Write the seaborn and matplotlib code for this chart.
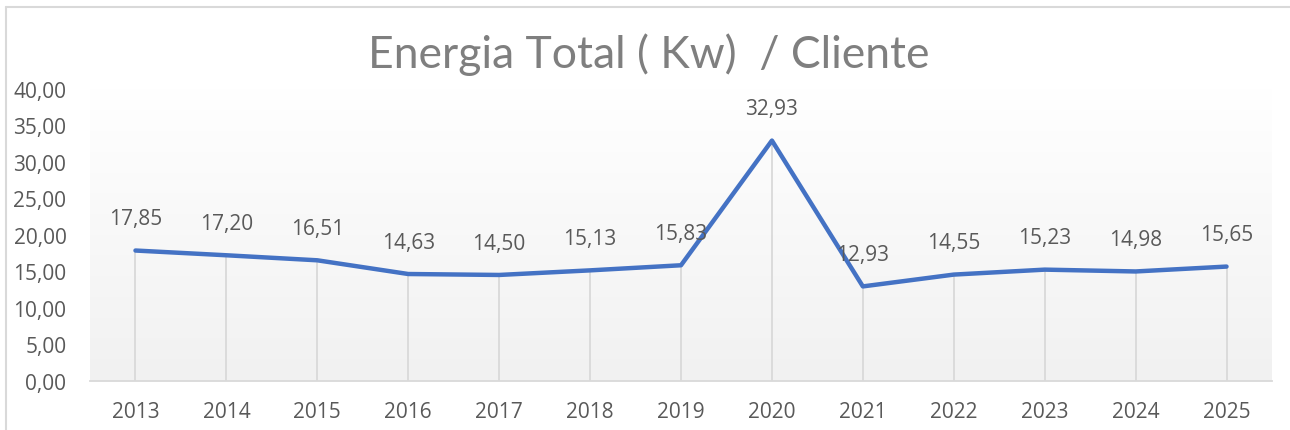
import matplotlib.pyplot as plt
import matplotlib.lines as mlines
import seaborn as sns
import pandas as pd
import numpy as np

# Data
anos = ['2013', '2014', '2015', '2016', '2017', '2018', '2019',
        '2020', '2021', '2022', '2023', '2024', '2025']
energia = [17.85, 17.20, 16.51, 14.63, 14.50, 15.13, 15.83,
           32.93, 12.93, 14.55, 15.23, 14.98, 15.65]
y_ticks = [0, 5, 10, 15, 20, 25, 30, 35, 40]

df = pd.DataFrame({'ano': anos, 'energia': energia})
df['pos'] = np.arange(len(df))

sns.set_theme(style='white')
plt.rcParams['font.family'] = ['Open Sans', 'DejaVu Sans']

fig = plt.figure(figsize=(12.9, 4.31), dpi=100)
ax = fig.add_axes([90 / 1290, 1 - 381.7 / 431, (1272 - 90) / 1290, (381.7 - 90) / 431])

# background gradient white -> light gray
grad = np.linspace(1.0, 0.945, 256).reshape(-1, 1)
ax.imshow(np.dstack([grad, grad, grad]), aspect='auto', extent=(-0.5, 12.5, 0, 40),
          origin='upper', zorder=0, interpolation='bicubic')

# drop lines
ax.vlines(df['pos'], 0, df['energia'], color='#d9d9d9', lw=1.3, zorder=1)

sns.lineplot(data=df, x='pos', y='energia', ax=ax, color='#4472c4', lw=3.2, zorder=3)

for x, v in zip(df['pos'], df['energia']):
    ax.annotate(f'{v:.2f}'.replace('.', ','), (x, v), xytext=(0, 23),
                textcoords='offset points', ha='center', va='center',
                fontsize=15, color='#595959', zorder=4)

ax.set_xlim(-0.5, 12.5)
ax.set_ylim(0, 40)
ax.set_xticks(df['pos'])
ax.set_xticklabels(anos)
ax.set_yticks(y_ticks)
ax.set_yticklabels([f'{t:.2f}'.replace('.', ',') for t in y_ticks])
ax.tick_params(axis='both', length=0, labelsize=15, labelcolor='#595959')
ax.tick_params(axis='y', pad=17)
ax.tick_params(axis='x', pad=14.5)
ax.set_xlabel('')
ax.set_ylabel('')
for s in ['top', 'right', 'left']:
    ax.spines[s].set_visible(False)
ax.spines['bottom'].set_color('#d9d9d9')
ax.spines['bottom'].set_linewidth(1.3)

fig.text(649 / 1290, 1 - 55 / 431, 'Energia Total ( Kw)  / Cliente', ha='center', va='center',
         fontsize=32, color='#7f7f7f', family=['Lato', 'DejaVu Sans'])

# outer chart border (top and left visible)
fig.add_artist(mlines.Line2D([6 / 1290, 6 / 1290], [0, 1 - 7.5 / 431], color='#d9d9d9', lw=1.5))
fig.add_artist(mlines.Line2D([6 / 1290, 1], [1 - 7.5 / 431, 1 - 7.5 / 431], color='#d9d9d9', lw=1.5))

fig.savefig('out.png', dpi=100)
